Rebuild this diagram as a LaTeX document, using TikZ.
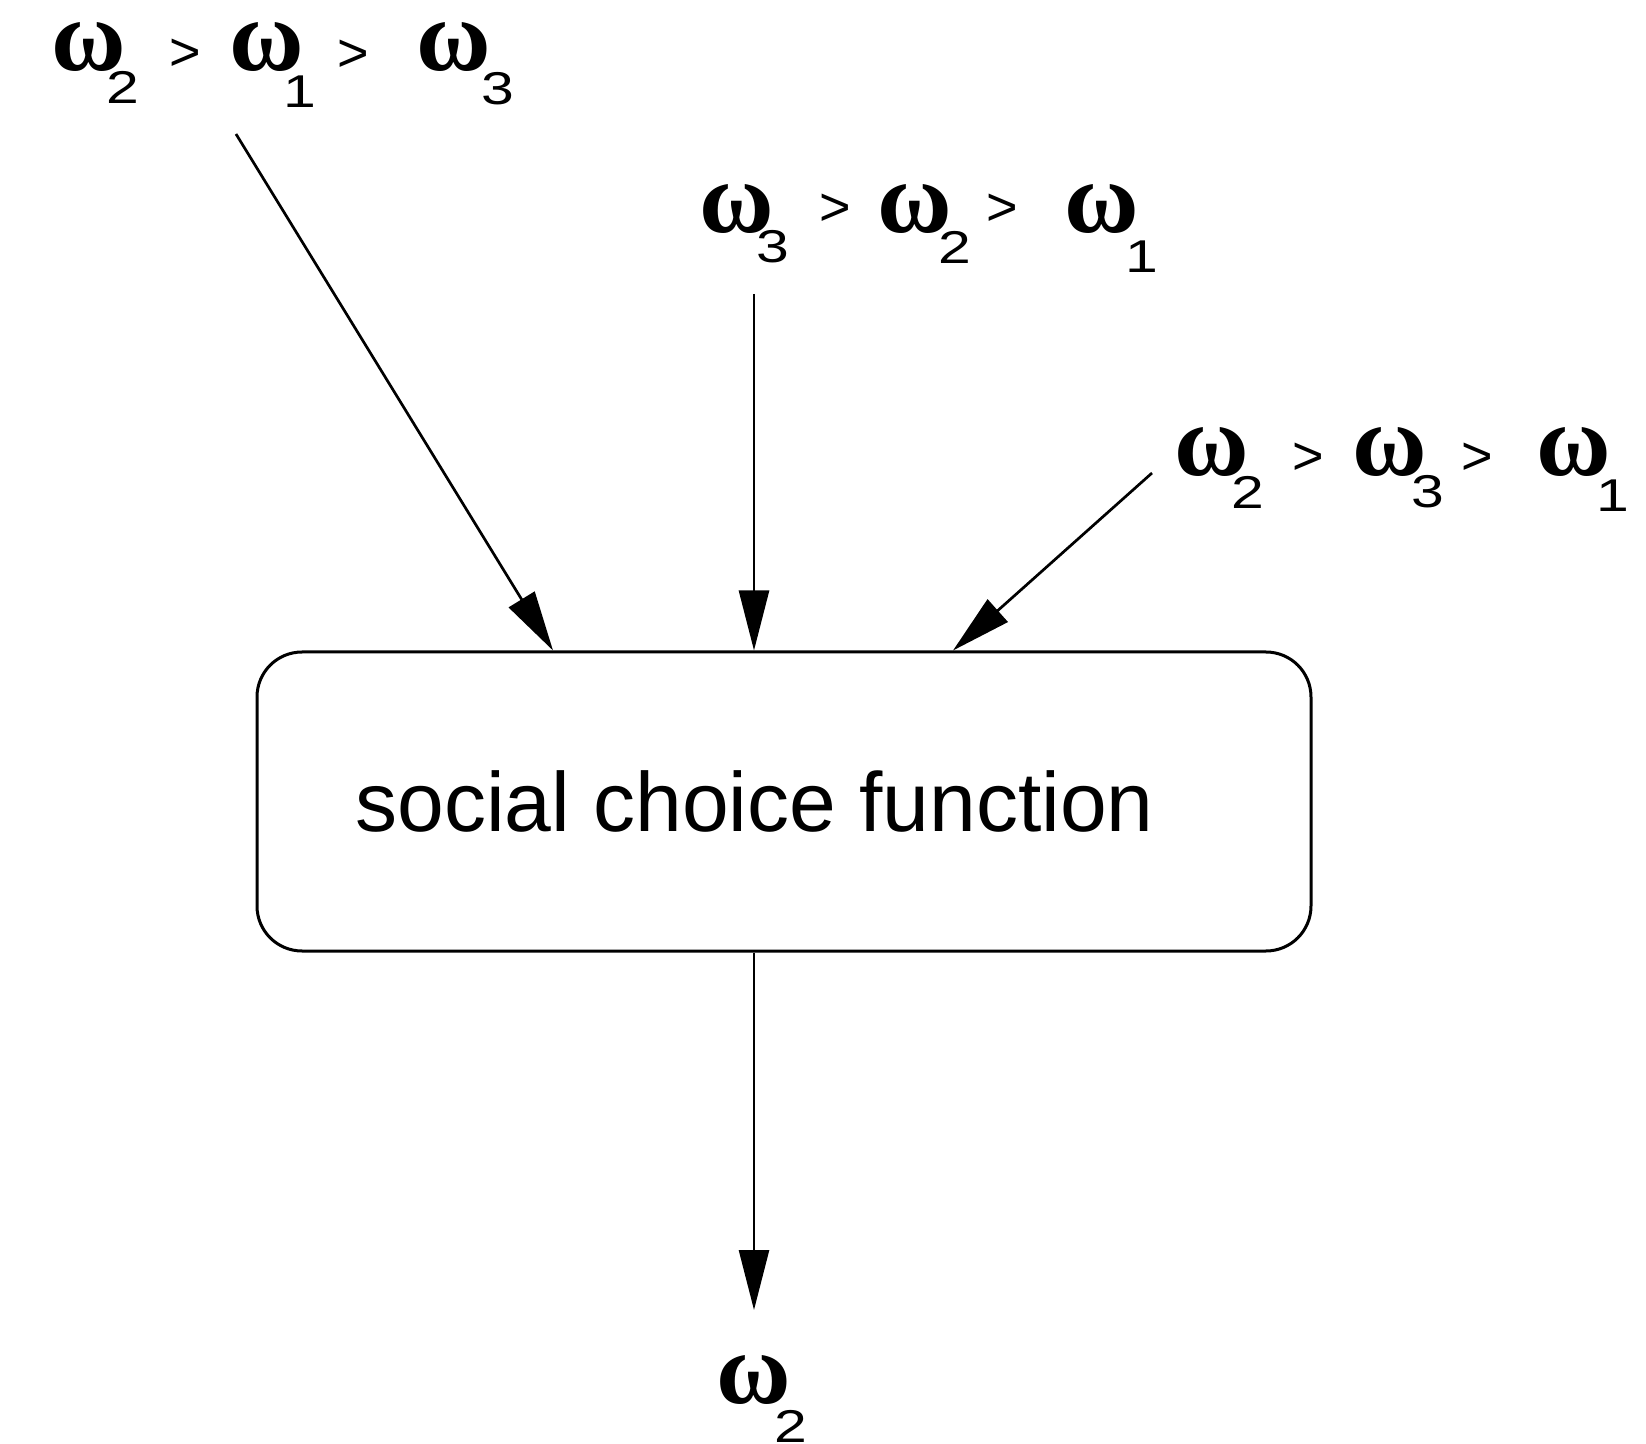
\documentclass[tikz,border=0pt]{standalone}
\usepackage{fontspec}
\usepackage{graphicx}
\setmainfont{Liberation Sans}
\newfontfamily\omegafont{Liberation Serif}
\usetikzlibrary{arrows.meta}
% one drawing unit = 0.5pt
\newdimen\upx \upx=0.5pt
% place a piece at horizontal offset #1 and vertical raise #2 (units) from the label origin
\newcommand\pc[3]{\rlap{\hskip#1\upx\raisebox{#2\upx}{#3}}}
\newcommand\Om{{\omegafont\bfseries\fontsize{51}{51}\selectfont ω}}
\newcommand\Sb[1]{\scalebox{1.28}[1]{\fontsize{23}{23}\selectfont #1}}
\newcommand\Gt{{\fontsize{27}{27}\selectfont >}}
\begin{document}
\begin{tikzpicture}[x=0.5pt,y=-0.5pt,
  pref/.style={inner sep=0pt,anchor=base west},
  arr/.style={line width=1.35pt,-{Triangle[length=30pt,width=15pt]}},
  scf/.style={draw,line width=1.5pt,rounded corners=22.5pt,
    minimum width=527pt,minimum height=149.5pt,inner sep=0pt}]
\useasboundingbox (0,0) rectangle (1646,1444);

% the social choice function
\node[scf] (box) at (784,801.5) {};
\node[pref,font=\fontsize{42}{42}\selectfont] (boxtext) at (355,832) {social choice function};

% individual preference orderings
\node[pref] (pa) at (50,71) {\pc{0}{0}{\Om}\pc{55}{-33}{\Sb2}\pc{118}{0}{\Gt}%
  \pc{178}{0}{\Om}\pc{232}{-37}{\Sb1}\pc{286}{-1}{\Gt}%
  \pc{365}{0}{\Om}\pc{430}{-34}{\Sb3}};
\node[pref] (pb) at (698,233) {\pc{0}{0}{\Om}\pc{57}{-30}{\Sb3}\pc{120}{7}{\Gt}%
  \pc{178}{0}{\Om}\pc{239}{-31}{\Sb2}\pc{287}{7}{\Gt}%
  \pc{365}{0}{\Om}\pc{426}{-40}{\Sb1}};
\node[pref] (pc) at (1173,476) {\pc{0}{0}{\Om}\pc{57}{-33}{\Sb2}\pc{118}{1}{\Gt}%
  \pc{178}{0}{\Om}\pc{237}{-32}{\Sb3}\pc{287}{1}{\Gt}%
  \pc{362}{0}{\Om}\pc{422}{-36}{\Sb1}};

% collective outcome
\node[pref] (res) at (715,1403) {\pc{0}{0}{\Om}\pc{58}{-39}{\Sb2}};

% arrow ends
\coordinate (sa) at (236,134);
\coordinate (sb) at (754,294);
\coordinate (sc) at (1152,473);
\coordinate (ta) at (553,652);
\coordinate (tc) at (953,652);
\coordinate (out) at (754,1310);

\draw[arr] (sa) -- (ta |- box.north);
\draw[arr] (sb) -- (sb |- box.north);
\draw[arr] (sc) -- (tc |- box.north);
\draw[arr] (box.south -| out) -- (out);
\end{tikzpicture}
\end{document}
